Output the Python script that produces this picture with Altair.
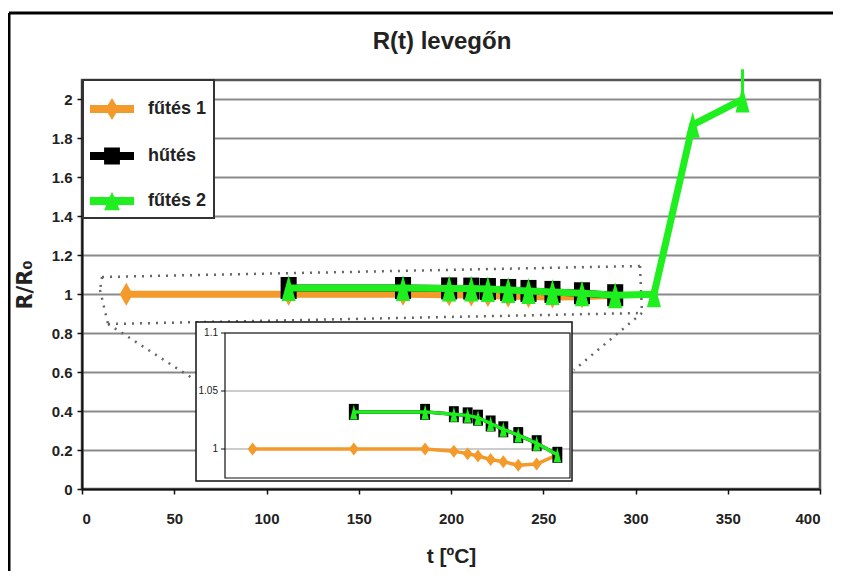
import altair as alt
import pandas as pd

# ---------------- data ----------------
chart_title = "R(t) levegőn"
x_title = "t [ºC]"
y_title = "R/R₀"
series = ["fűtés 1", "hűtés", "fűtés 2"]

t_heat1 = [24, 112, 174, 199, 211, 220, 231, 242, 255, 271, 289]
r_heat1 = [1.000, 1.000, 1.000, 0.998, 0.996, 0.994, 0.991, 0.989, 0.986, 0.987, 0.995]
t_cool = [289, 271, 255, 242, 231, 220, 211, 199, 174, 112]
r_cool = [0.995, 1.005, 1.012, 1.017, 1.022, 1.027, 1.029, 1.030, 1.032, 1.032]
t_heat2 = [112, 174, 199, 211, 220, 231, 242, 255, 271, 289, 310, 331, 358]
r_heat2 = [1.032, 1.032, 1.030, 1.029, 1.027, 1.022, 1.017, 1.012, 1.005, 0.995, 1.000, 1.870, 2.000]
spike_t = [358]
spike_low = [2.0]
spike_high = [2.155]

x_ticks = [0, 50, 100, 150, 200, 250, 300, 350, 400]
y_ticks = [0, 0.2, 0.4, 0.6, 0.8, 1.0, 1.2, 1.4, 1.6, 1.8, 2.0]
inset_ticks = [1.0, 1.05, 1.1]
inset_tick_labels = ["1", "1.05", "1.1"]

# ---------------- styles ----------------
ORANGE = "#F39A2B"
BLACK = "#000000"
GREEN = "#1FEE1F"
TXT = "#222222"
FONT = "Liberation Sans"

DIAMOND = "M0,-1L0.57,0L0,1L-0.57,0Z"
SQUARE = "M-0.73,-1L0.73,-1L0.73,1L-0.73,1Z"
TRIANGLE = "M0,-1L0.54,1L-0.54,1Z"
DIAMOND_S = "M0,-1L0.77,0L0,1L-0.77,0Z"
SQUARE_S = "M-0.62,-1L0.62,-1L0.62,1L-0.62,1Z"
TRIANGLE_S = "M0,-1L0.5,1L-0.5,1Z"

LEG_LINE = "M-1,-0.18L1,-0.18L1,0.18L-1,0.18Z "
legend_paths = [
    LEG_LINE + "M0,-0.5L0.3,0L0,0.5L-0.3,0Z",
    LEG_LINE + "M-0.36,-0.39L0.36,-0.39L0.36,0.39L-0.36,0.39Z",
    LEG_LINE + "M0,-0.42L0.36,0.42L-0.36,0.42Z",
]

df1 = pd.DataFrame({"t": t_heat1, "r": r_heat1})
dfc = pd.DataFrame({"t": t_cool, "r": r_cool})
df2 = pd.DataFrame({"t": t_heat2, "r": r_heat2})
dfs = pd.DataFrame({"t": spike_t, "lo": spike_low, "hi": spike_high})
dfi = pd.DataFrame({"v": inset_ticks, "lab": inset_tick_labels})
dfleg = pd.DataFrame({"series": series})
dft = pd.DataFrame({"title": [chart_title]})
one = pd.DataFrame({"d": [0]})

x_axis = alt.Axis(values=x_ticks, format="d", title=x_title, grid=False,
                  domainColor="#111", domainWidth=2, tickColor="#111", tickWidth=1.5,
                  tickSize=5, labelFont=FONT, labelFontSize=15, labelFontWeight="bold",
                  labelColor=TXT, labelPadding=17, titleFont=FONT, titleFontSize=21,
                  titleFontWeight="bold", titleColor=TXT, titlePadding=19)
y_axis = alt.Axis(values=y_ticks, format="~g", title=y_title, grid=True,
                  gridColor="#8a8a8a", gridWidth=2, domainColor="#111", domainWidth=2,
                  tickColor="#111", tickWidth=1.5, tickSize=5, labelFont=FONT,
                  labelFontSize=15, labelFontWeight="bold", labelColor=TXT, labelPadding=5,
                  titleFont="DejaVu Sans", titleFontSize=21, titleFontWeight="bold",
                  titleColor=TXT, titlePadding=16)


def mx(field="t"):
    return alt.X(f"{field}:Q", scale=alt.Scale(domain=[0, 400], nice=False, zero=False), axis=x_axis)


def my(field="r"):
    return alt.Y(f"{field}:Q", scale=alt.Scale(domain=[0, 2.1], nice=False, zero=False), axis=y_axis)


def ix(field="t"):
    return alt.X(f"{field}:Q", scale=alt.Scale(domain=[0, 300], range=[143, 488], nice=False, zero=False), axis=None)


def iy(field="r"):
    return alt.Y(f"{field}:Q", scale=alt.Scale(domain=[0.975, 1.1], range=[398, 253], nice=False, zero=False), axis=None)


def seg(x1, y1, x2, y2, color="#666", width=2.5, dash=(2, 6)):
    m = alt.Chart(one).mark_rule(color=color, strokeWidth=width, strokeDash=list(dash) if dash else [1, 0])
    return m.encode(x=alt.value(x1), y=alt.value(y1), x2=alt.value(x2), y2=alt.value(y2))


# outer frame
frame = [
    seg(-73, -67, 751, -67, color="#000", width=3, dash=None),
    seg(-73, -67, -73, 520, color="#000", width=3, dash=None),
]
# dotted callout
callout = [
    seg(20, 197, 558, 186),
    seg(558, 186, 560, 233),
    seg(560, 233, 492, 290),
    seg(26, 244, 560, 233),
    seg(20, 197, 18, 210),
    seg(18, 210, 26, 244),
    seg(26, 244, 110, 298),
]

title_mark = alt.Chart(dft).mark_text(font=FONT, fontSize=24, fontWeight="bold", color=TXT,
                                      align="center", baseline="middle").encode(
    x=alt.value(360), y=alt.value(-38), text="title:N")

main_marks = [
    alt.Chart(df1).mark_line(color=ORANGE, strokeWidth=7).encode(x=mx(), y=my()),
    alt.Chart(df1).mark_point(shape=DIAMOND, size=529, filled=True, color=ORANGE, opacity=1).encode(x=mx(), y=my()),
    alt.Chart(dfc).mark_line(color=BLACK, strokeWidth=7).encode(x=mx(), y=my()),
    alt.Chart(dfc).mark_point(shape=SQUARE, size=484, filled=True, color=BLACK, opacity=1).encode(x=mx(), y=my()),
    alt.Chart(df2).mark_line(color=GREEN, strokeWidth=7).encode(x=mx(), y=my()),
    alt.Chart(dfs).mark_rule(color=GREEN, strokeWidth=3).encode(x=mx(), y=my("lo"), y2="hi:Q"),
    alt.Chart(df2).mark_point(shape=TRIANGLE, size=676, filled=True, color=GREEN, opacity=1).encode(x=mx(), y=my()),
]

leg = alt.Legend(title=None, orient="none", legendX=1, legendY=0, symbolSize=1936,
                 fillColor="white", strokeColor="#333", padding=7, rowPadding=14,
                 labelOffset=14, labelFont=FONT, labelFontSize=18, labelFontWeight="bold",
                 labelColor=TXT, symbolStrokeWidth=0, symbolOpacity=1)
legend_layer = alt.Chart(dfleg).mark_point(filled=True, opacity=1, size=10).encode(
    x=alt.value(-1000), y=alt.value(-1000),
    color=alt.Color("series:N", scale=alt.Scale(domain=series, range=[ORANGE, BLACK, GREEN]), legend=leg, sort=series),
    shape=alt.Shape("series:N", scale=alt.Scale(domain=series, range=legend_paths), legend=leg, sort=series),
)

main = alt.layer(*frame, *callout, title_mark, *main_marks, legend_layer)

in_range = "datum.t <= 300"
inset = alt.layer(
    alt.Chart(one).mark_rect(fill="white", stroke="#111", strokeWidth=1.5).encode(
        x=alt.value(114), x2=alt.value(490), y=alt.value(242), y2=alt.value(401)),
    alt.Chart(dfi).mark_rule(color="#999", strokeWidth=1.2).encode(
        y=iy("v"), x=alt.value(143), x2=alt.value(488)),
    alt.Chart(dfi).mark_rule(color="#111", strokeWidth=1).encode(
        y=iy("v"), x=alt.value(139), x2=alt.value(143)),
    alt.Chart(dfi).mark_text(align="right", baseline="middle", font=FONT, fontSize=10, color=TXT).encode(
        y=iy("v"), x=alt.value(136), text="lab:N"),
    alt.Chart(one).mark_rect(fillOpacity=0, stroke="#111", strokeWidth=1.2).encode(
        x=alt.value(143), x2=alt.value(488), y=alt.value(253), y2=alt.value(398)),
    alt.Chart(df1).mark_line(color=ORANGE, strokeWidth=3.5).encode(x=ix(), y=iy()),
    alt.Chart(df1).mark_point(shape=DIAMOND_S, size=169, filled=True, color=ORANGE, opacity=1).encode(x=ix(), y=iy()),
    alt.Chart(dfc).mark_line(color=BLACK, strokeWidth=3.5).encode(x=ix(), y=iy()),
    alt.Chart(dfc).mark_point(shape=SQUARE_S, size=256, filled=True, color=BLACK, opacity=1).encode(x=ix(), y=iy()),
    alt.Chart(df2).transform_filter(in_range).mark_line(color=GREEN, strokeWidth=3.5).encode(x=ix(), y=iy()),
    alt.Chart(df2).transform_filter(in_range).mark_point(shape=TRIANGLE_S, size=225, filled=True, color=GREEN, opacity=1).encode(x=ix(), y=iy()),
)

chart = alt.layer(main, inset).resolve_scale(x="independent", y="independent").properties(
    width=738, height=409,
    autosize=alt.AutoSizeParams(type="none"),
    padding={"left": 74, "top": 72, "right": 14, "bottom": 82},
).configure_view(stroke="#555", strokeWidth=2.5).configure_legend(strokeWidth=2)

chart.save("out.html", embed_options={"renderer": "svg", "actions": False})
